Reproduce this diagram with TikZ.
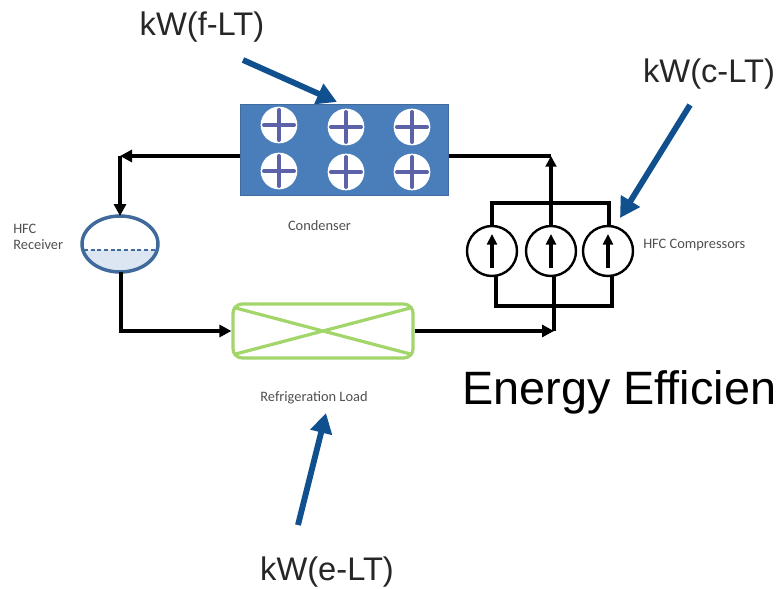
\documentclass[tikz,border=0pt]{standalone}
\usepackage{fontspec}
\setmainfont{Liberation Sans}
\newfontfamily\smallfont{Carlito}
\usetikzlibrary{arrows.meta,calc}
\definecolor{condblue}{HTML}{4A7EBB}
\definecolor{arrowblue}{HTML}{10508F}
\definecolor{loadgreen}{HTML}{A3D66A}
\definecolor{recvblue}{HTML}{3F6A9B}
\definecolor{liquid}{HTML}{DCE6F2}
\definecolor{fancross}{HTML}{5B62A8}
\definecolor{smallgrey}{HTML}{505050}
\tikzset{
  pipe/.style={line width=2.3pt,black,line join=miter},
  pipearrow/.style={pipe,-{Triangle[length=9pt,width=9pt]}},
  kwarrow/.style={line width=4.4pt,arrowblue,-{Triangle[length=15pt,width=16pt]}},
  kwlabel/.style={font=\fontsize{24.5pt}{28pt}\selectfont,text=black!85,inner sep=0pt},
  smalllabel/.style={font=\smallfont\fontsize{10.8pt}{12.5pt}\selectfont,text=smallgrey,inner sep=0pt,align=left},
  fan/.style={circle,fill=white,minimum size=27.5pt,inner sep=0pt,draw=none},
  compcircle/.style={circle,draw=black,line width=1.8pt,fill=white,minimum size=37.5pt,inner sep=0pt},
}
\begin{document}
\begin{tikzpicture}[x=0.75pt,y=-0.75pt]
\useasboundingbox (0,0) rectangle (776,589);
\clip (0,0) rectangle (776,589);
\fill[white] (0,0) rectangle (776,589);

% Condenser
\node[draw=condblue!85!black,fill=condblue,line width=1pt,minimum width=156pt,minimum height=68.5pt,inner sep=0pt] (cond) at (344.5,150) {};
\foreach \n/\x/\y in {a/279/125,b/346/127,c/412/127,d/279/171,e/346/172,f/412/172}{
  \node[fan] (fan\n) at (\x,\y) {};
  \draw[fancross,line width=3pt,line cap=round] ($(fan\n.center)+(-15,0)$) -- ($(fan\n.center)+(15,0)$);
  \draw[fancross,line width=3pt,line cap=round] ($(fan\n.center)+(0,-15)$) -- ($(fan\n.center)+(0,15)$);
}

% Receiver
\begin{scope}
  \clip (82,250) rectangle (158,274);
  \fill[liquid] (120,244) ellipse [x radius=38,y radius=28];
\end{scope}
\draw[recvblue,line width=2.6pt] (120,244) ellipse [x radius=38,y radius=28];
\draw[recvblue,line width=0.8pt,densely dashed] (84,250) -- (156,250);
\coordinate (recvtop) at (120,216);
\coordinate (recvbot) at (121,272);

% Load
\node[draw=loadgreen,line width=2.4pt,rounded corners=7pt,minimum width=135pt,minimum height=40.5pt,inner sep=0pt] (load) at (323,331) {};
\draw[loadgreen,line width=2.4pt] ($(load.north west)+(2,5)$) -- ($(load.south east)+(-2,-5)$);
\draw[loadgreen,line width=2.4pt] ($(load.south west)+(2,-5)$) -- ($(load.north east)+(-2,5)$);

% Compressors
\coordinate (ctop) at (551,156);
\coordinate (cbot) at (554,331);
\coordinate (topm) at (551,203);
\coordinate (botm) at (554,306);
\coordinate (botr) at (612,306);
\draw[pipe] (492,226) |- (609,203) -- (609,226);
\draw[pipe] (496,276) |- (botr) -- (612,276);
\node[compcircle] (c1) at (492,251) {};
\node[compcircle] (c2) at (551,251) {};
\node[compcircle] (c3) at (608,251) {};
\foreach \c in {c1,c2,c3}{
  \draw[line width=2.3pt,-{Triangle[length=8pt,width=7.5pt]}] ($(\c.center)+(0,17)$) -- ($(\c.center)+(0,-17)$);
}
\draw[pipe] (c2.north) -- (topm);
\draw[pipe] (c2.south -| botm) -- (botm);

% Pipes
\coordinate (leftcorner) at (120,156);
\draw[pipearrow] (cond.west |- leftcorner) -- (leftcorner);
\draw[pipearrow] (leftcorner) -- (recvtop);
\draw[pipearrow] (recvbot) |- (load.west);
\draw[pipearrow] (load.east) -- (cbot);
\draw[pipe] (cbot) -- (botm);
\draw[pipe] (cond.east |- ctop) -- (ctop);
\draw[pipe,-{Triangle[length=8pt,width=8pt]}] (topm) -- (ctop);

% Labels
\node[smalllabel,anchor=center] (lcond) at (319.5,226) {Condenser};
\node[smalllabel,anchor=west] (lrecv) at (13,237) {HFC\\Receiver};
\node[smalllabel,anchor=center] (lload) at (314,398) {Refrigeration Load};
\node[smalllabel,anchor=west] (lcomp) at (643,245) {HFC Compressors};

\node[kwlabel] (kwf) at (202,27) {kW(f-LT)};
\node[kwlabel] (kwc) at (709,74) {kW(c-LT)};
\node[kwlabel] (kwe) at (327,572) {kW(e-LT)};
\node[font=\fontsize{35.1pt}{42pt}\selectfont,inner sep=0pt,anchor=base west] (ee) at (462,404) {Energy Efficien};

% Blue arrows
\coordinate (ftail) at (243,60);
\coordinate (ctail) at (690,105);
\coordinate (etail) at (298,525);
\draw[kwarrow] (ftail) -- (337,102);
\draw[kwarrow] (ctail) -- (620,218);
\draw[kwarrow] (etail) -- (326,413);
\end{tikzpicture}
\end{document}
